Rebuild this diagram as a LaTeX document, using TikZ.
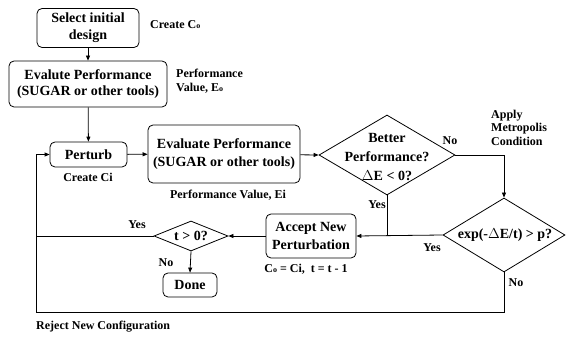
\documentclass[tikz,border=0pt]{standalone}
\usepackage{fontspec}
\setmainfont{Liberation Serif}
\usetikzlibrary{shapes.geometric,arrows.meta}
\newcommand{\lowo}{{\fontsize{8}{8}\selectfont o}}
\begin{document}
\begin{tikzpicture}[x=1pt,y=-1pt,
  box/.style={draw, rounded corners=5pt, line width=0.8pt, align=center, font=\bfseries\fontsize{14}{17}\selectfont, inner sep=0pt},
  dia/.style={draw, diamond, line width=0.8pt, inner sep=0pt},
  lbl/.style={font=\bfseries\fontsize{12}{13.5}\selectfont, inner sep=0pt},
  ttl/.style={font=\bfseries\fontsize{14}{19}\selectfont, align=center, inner sep=0pt},
  conn/.style={line width=0.8pt},
  arr/.style={conn, -{Triangle[length=5pt,width=4pt]}},
]
\useasboundingbox (0,0) rectangle (566,339);
% boxes
\node[box, minimum width=102pt, minimum height=39pt] (sel) at (88,28) {Select initial\\design};
\node[box, minimum width=158pt, minimum height=46pt, font=\bfseries\fontsize{14}{16}\selectfont] (eval0) at (88,84) {Evalute Performance\\(SUGAR or other tools)};
\node[box, minimum width=77pt, minimum height=25pt] (perturb) at (88.5,154.5) {Perturb};
\node[box, minimum width=152pt, minimum height=58pt, font=\bfseries\fontsize{14}{18}\selectfont] (eval1) at (224,154) {Evaluate Performance\\(SUGAR or other tools)};
\node[box, minimum width=90pt, minimum height=44pt, font=\bfseries\fontsize{14}{18}\selectfont] (accept) at (311,236) {Accept New\\Perturbation};
\node[box, minimum width=54pt, minimum height=24pt] (done) at (190,285) {Done};
% diamonds
\node[dia, minimum width=136pt, minimum height=80pt] (better) at (387,155) {};
\node[ttl] (bettert) at (387,157) {Better\\Performance?\\$\Delta$E < 0?};
\node[dia, minimum width=122pt, minimum height=74pt] (exp) at (504,235) {};
\node[ttl] (expt) at (505,235) {exp(-$\Delta$E/t) > p?};
\node[dia, minimum width=74pt, minimum height=30pt] (tgt) at (191,236) {};
\node[ttl] (tgtt) at (191,236) {t > 0?};
% coordinates
\coordinate (bl) at (36,312);
\coordinate (br) at (504,312);
\coordinate (tl) at (36,236);
\coordinate (pl) at (36,154.5);
\coordinate (bj) at (387,236);
% connectors
\draw[arr] (sel) -- (eval0);
\draw[arr] (eval0) -- (perturb);
\draw[arr] (perturb) -- (eval1);
\draw[arr] (eval1) -- (better.west);
\draw[arr] (better.east) -| (exp.north);
\draw[conn] (better.south) -- (bj);
\draw[arr] (exp.west) -- (accept.east);
\draw[arr] (accept.west) -- (tgt.east);
\draw[conn] (tgt.west) -- (tl);
\draw[arr] (tgt.south) -- (done.north);
\draw[arr] (exp.south) -- (br) -- (bl) -- (pl) -- (perturb.west);
% labels
\node[lbl, anchor=west] (l1) at (150,25) {Create C\lowo};
\node[lbl, anchor=west, align=left, font=\bfseries\fontsize{12}{14}\selectfont] (l2) at (176,81) {Performance\\Value, E\lowo};
\node[lbl] (l3) at (88,177) {Create Ci};
\node[lbl] (l4) at (228,195) {Performance Value, Ei};
\node[lbl, anchor=west, align=left] (l5) at (491,127.5) {Apply\\Metropolis\\Condition};
\node[lbl] (l6) at (306,269) {C\lowo{} = Ci,\ \ t = t - 1};
\node[lbl, anchor=west] (l7) at (36,327) {Reject New Configuration};
\node[lbl] (n1) at (450,141) {No};
\node[lbl] (y1) at (377,205) {Yes};
\node[lbl] (y2) at (432,248) {Yes};
\node[lbl] (n2) at (516,283) {No};
\node[lbl] (y3) at (137,225) {Yes};
\node[lbl] (n3) at (166,263) {No};
\end{tikzpicture}
\end{document}
